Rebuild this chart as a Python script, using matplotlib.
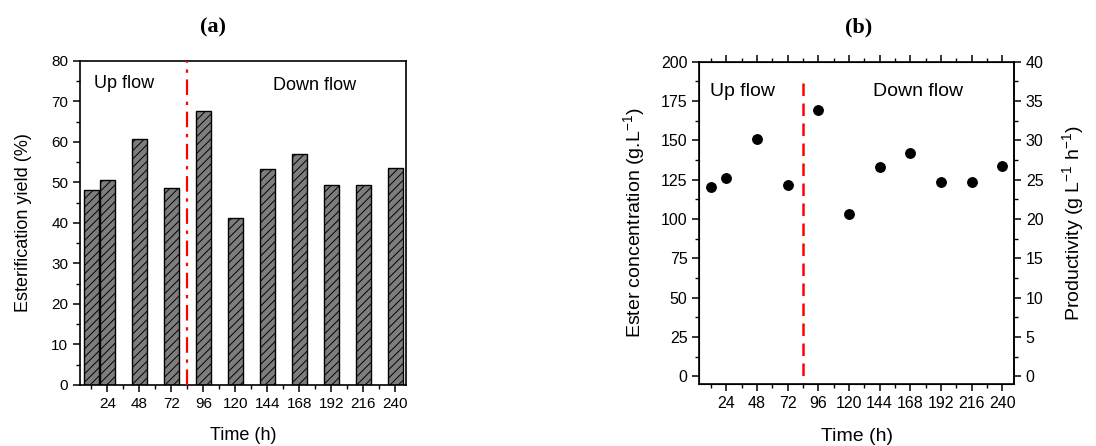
import numpy as np
import matplotlib
matplotlib.use('Agg')
import matplotlib.pyplot as plt
from matplotlib.ticker import MultipleLocator, FixedLocator

plt.rcParams['font.family'] = ['Liberation Sans', 'DejaVu Sans']
plt.rcParams['hatch.linewidth'] = 0.7
plt.rcParams['hatch.color'] = '#1a1a1a'

# ===== data =====
time_h = [12, 24, 48, 72, 96, 120, 144, 168, 192, 216, 240]
yield_pct = [48.1, 50.5, 60.6, 48.7, 67.7, 41.3, 53.2, 57.0, 49.4, 49.4, 53.5]
ester_conc = [120.3, 126.0, 151.0, 121.6, 169.1, 103.4, 133.0, 142.1, 123.5, 123.5, 133.6]
switch_time = 84
major_ticks = [24, 48, 72, 96, 120, 144, 168, 192, 216, 240]
minor_ticks = [12, 36, 60, 84, 108, 132, 156, 180, 204, 228]

W, H = 1096, 446
fig = plt.figure(figsize=(W / 100, H / 100), dpi=100)


def px_axes(l, t, r, b):
    return fig.add_axes([l / W, 1 - b / H, (r - l) / W, (b - t) / H])


def style_ticks(ax, size):
    ax.xaxis.set_major_locator(FixedLocator(major_ticks))
    ax.xaxis.set_minor_locator(FixedLocator(minor_ticks))
    ax.tick_params(which='major', direction='out', length=5, width=1.1, labelsize=size)
    ax.tick_params(which='minor', direction='out', length=3, width=1.0)
    for s in ax.spines.values():
        s.set_linewidth(1.2)


# ===== (a) bars =====
ax1 = px_axes(80, 60.7, 405.7, 385)
ax1.bar(time_h, yield_pct, width=10.8, color='#7d7d7d', edgecolor='black',
        linewidth=1.0, hatch='////', zorder=2)
ax1.axvline(switch_time, color='red', lw=1.6, ls=(0, (7, 3, 1.5, 3)), zorder=3)
ax1.set_xlim(3.5, 247.8)
ax1.set_ylim(0, 80)
ax1.yaxis.set_major_locator(MultipleLocator(10))
ax1.yaxis.set_minor_locator(MultipleLocator(5))
style_ticks(ax1, 11)
ax1.tick_params(top=False, right=False, which='both')
ax1.set_xlabel('Time (h)', fontsize=13, labelpad=12)
ax1.set_ylabel('Esterification yield (%)', fontsize=13, labelpad=14)
ax1.text(14, 74.3, 'Up flow', fontsize=13, ha='left', va='center')
ax1.text(148, 73.8, 'Down flow', fontsize=13, ha='left', va='center')

# ===== (b) scatter =====
ax2 = px_axes(699.3, 61.7, 1014, 384.3)
ax2.plot(time_h, ester_conc, 'o', color='black', markersize=6.8, zorder=3)
ax2.plot([switch_time, switch_time], [186.5, -5], color='red', lw=1.8,
         ls=(0, (5, 3)), zorder=2)
ax2.set_xlim(3, 249)
ax2.set_ylim(-5, 200)
ax2.yaxis.set_major_locator(MultipleLocator(25))
ax2.yaxis.set_minor_locator(MultipleLocator(12.5))
style_ticks(ax2, 11.5)
ax2.tick_params(which='both', top=True)
ax2.tick_params(axis='x', which='both', labeltop=False)
ax2.set_xlabel('Time (h)', fontsize=14, labelpad=12)
ax2.set_ylabel('Ester concentration (g.L$^{\\mathregular{-1}}$)', fontsize=14, labelpad=9)
ax2.text(11.5, 181, 'Up flow', fontsize=14, ha='left', va='center')
ax2.text(138.8, 181, 'Down flow', fontsize=14, ha='left', va='center')

ax3 = ax2.twinx()
ax3.set_ylim(-1, 40)
ax3.yaxis.set_major_locator(MultipleLocator(5))
ax3.yaxis.set_minor_locator(MultipleLocator(2.5))
ax3.tick_params(which='major', direction='out', length=5, width=1.1, labelsize=11.5)
ax3.tick_params(which='minor', direction='out', length=3, width=1.0)
ax3.spines['right'].set_linewidth(1.2)
ax3.set_ylabel('Productivity (g L$^{\\mathregular{-1}}$ h$^{\\mathregular{-1}}$)',
               fontsize=14, labelpad=12)

# panel titles
fig.text(213 / W, 1 - 27.5 / H, '(a)', fontsize=16, fontweight='bold',
         family='Liberation Serif', ha='center', va='center')
fig.text(859 / W, 1 - 27.5 / H, '(b)', fontsize=16, fontweight='bold',
         family='Liberation Serif', ha='center', va='center')

fig.savefig('out.png', dpi=100)
